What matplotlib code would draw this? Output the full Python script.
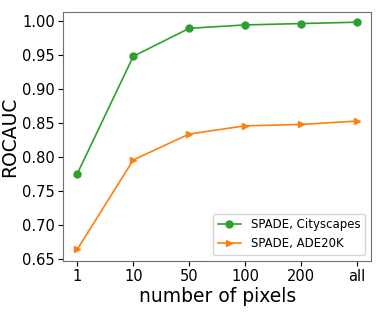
import matplotlib
matplotlib.use("Agg")
import matplotlib.pyplot as plt

labels = ['1', '10', '50', '100', '200', 'all']
cityscapes = [0.776, 0.948, 0.989, 0.994, 0.996, 0.998]
ade20k = [0.665, 0.796, 0.834, 0.846, 0.848, 0.853]

fig = plt.figure(figsize=(3.82, 3.15), dpi=100)
ax = fig.add_axes([0.166, 0.172, 0.805, 0.790])

x = list(range(len(labels)))
ax.plot(x, cityscapes, marker='o', markersize=5, color='tab:green', linewidth=1.2, label='SPADE, Cityscapes')
ax.plot(x, ade20k, marker='>', markersize=5, color='tab:orange', linewidth=1.2, label='SPADE, ADE20K')

ax.set_xticks(x)
ax.set_xticklabels(labels)
ax.set_yticks([0.65, 0.70, 0.75, 0.80, 0.85, 0.90, 0.95, 1.00])
ax.set_ylim(0.648, 1.013)
ax.tick_params(labelsize=10.5, pad=2.5)
ax.set_xlabel('number of pixels', fontsize=13.5, labelpad=2)
ax.set_ylabel('ROCAUC', fontsize=13.5, labelpad=2)
for s in ax.spines.values():
    s.set_edgecolor('#707070')
ax.legend(loc='lower right', fontsize=8.5)

fig.savefig('out.png', dpi=100)
